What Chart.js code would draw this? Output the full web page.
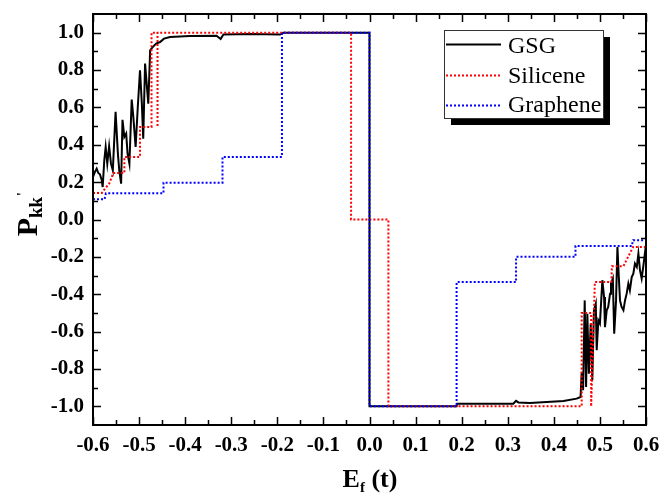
<!DOCTYPE html>
<html><head><meta charset="utf-8">
<script src="https://cdn.jsdelivr.net/npm/chart.js@4/dist/chart.umd.min.js"></script>
<style>html,body{margin:0;padding:0;background:#fff}canvas{display:block}</style>
</head><body>
<canvas id="c" width="662" height="494"></canvas>
<script>
const xTickLabels = [-0.6,-0.5,-0.4,-0.3,-0.2,-0.1,0.0,0.1,0.2,0.3,0.4,0.5,0.6];
const yTickLabels = [-1.0,-0.8,-0.6,-0.4,-0.2,0.0,0.2,0.4,0.6,0.8,1.0];
const seriesNames = ['GSG','Silicene','Graphene'];

const gsgX = [-0.600,-0.596,-0.592,-0.5885,-0.585,-0.581,-0.579,-0.5755,-0.5725,-0.569,-0.565,-0.561,-0.557,-0.551,-0.546,-0.543,-0.539,-0.536,-0.532,-0.528,-0.525,-0.521,-0.516,-0.5125,-0.5075,-0.503,-0.498,-0.494,-0.491,-0.487,-0.4835,-0.480,-0.476,-0.4705,-0.463,-0.4545,-0.446,-0.433,-0.390,-0.332,-0.323,-0.317,-0.259,-0.194,-0.187,0.0,0.0,0.189,0.190,0.312,0.318,0.323,0.348,0.421,0.4495,0.458,0.4605,0.4635,0.467,0.470,0.4727,0.476,0.480,0.4835,0.487,0.491,0.493,0.4966,0.500,0.5053,0.509,0.511,0.5147,0.518,0.522,0.524,0.528,0.531,0.535,0.538,0.541,0.5436,0.547,0.551,0.5545,0.558,0.5617,0.565,0.569,0.5725,0.576,0.580,0.5835,0.587,0.5906,0.594,0.598,0.600];
const gsgY = [0.228,0.254,0.272,0.249,0.242,0.210,0.174,0.317,0.388,0.299,0.392,0.299,0.263,0.576,0.353,0.263,0.192,0.534,0.442,0.460,0.353,0.299,0.642,0.549,0.388,0.594,0.799,0.620,0.433,0.835,0.727,0.620,0.906,0.923,0.942,0.950,0.968,0.977,0.982,0.984,0.966,0.990,0.993,0.990,1.0,1.0,-1.0,-1.0,-0.986,-0.986,-0.971,-0.979,-0.982,-0.971,-0.959,-0.950,-0.816,-0.914,-0.433,-0.897,-0.504,-0.825,-0.557,-0.861,-0.486,-0.450,-0.700,-0.540,-0.557,-0.325,-0.415,-0.576,-0.486,-0.468,-0.397,-0.343,-0.316,-0.611,-0.433,-0.147,-0.308,-0.433,-0.468,-0.486,-0.433,-0.397,-0.343,-0.379,-0.308,-0.290,-0.236,-0.254,-0.183,-0.272,-0.316,-0.254,-0.174,-0.190];

const silX = [-0.600,-0.581,-0.5755,-0.5647,-0.556,-0.532,-0.532,-0.498,-0.498,-0.473,-0.473,-0.460,-0.460,-0.460,-0.040,-0.040,0.041,0.041,0.4605,0.4605,0.481,0.481,0.489,0.525,0.526,0.551,0.572,0.600];
const silY = [0.142,0.142,0.160,0.193,0.249,0.249,0.335,0.335,0.495,0.495,1.0,1.0,0.495,1.0,1.0,0.0,0.0,-1.0,-1.0,-0.5,-0.5,-1.0,-0.335,-0.335,-0.25,-0.25,-0.147,-0.147];

const graX = [-0.600,-0.575,-0.572,-0.447,-0.447,-0.319,-0.319,-0.190,-0.190,0.0,0.0,0.189,0.189,0.318,0.318,0.447,0.447,0.569,0.572,0.600];
const graY = [0.108,0.108,0.140,0.140,0.197,0.197,0.335,0.335,1.0,1.0,-1.0,-1.0,-0.335,-0.335,-0.200,-0.200,-0.142,-0.142,-0.111,-0.111];

const pts = (xs, ys) => xs.map((x, i) => ({x, y: ys[i]}));
const SERIF = '"Liberation Serif", "Times New Roman", serif';

const frameTicks = {
  id: 'frameTicks',
  afterDatasetsDraw(chart) {
    const {ctx, chartArea: a, scales: {x, y}} = chart;
    ctx.save();
    ctx.strokeStyle = '#000';
    ctx.lineWidth = 1.5;
    const xMinor = xTickLabels.slice(1).map((v, i) => (v + xTickLabels[i]) / 2);
    const yMinor = yTickLabels.slice(1).map((v, i) => (v + yTickLabels[i]) / 2);
    ctx.beginPath();
    const xt = (vals, len) => vals.forEach(v => {
      const px = Math.round(x.getPixelForValue(v)) + 0.5;
      ctx.moveTo(px, a.bottom); ctx.lineTo(px, a.bottom - len);
      ctx.moveTo(px, a.top); ctx.lineTo(px, a.top + len);
    });
    const yt = (vals, len) => vals.forEach(v => {
      const py = Math.round(y.getPixelForValue(v)) + 0.5;
      ctx.moveTo(a.left, py); ctx.lineTo(a.left + len, py);
      ctx.moveTo(a.right, py); ctx.lineTo(a.right - len, py);
    });
    xt(xTickLabels, 8); xt(xMinor, 5);
    yt(yTickLabels, 8); yt(yMinor, 5);
    ctx.stroke();
    ctx.lineWidth = 2;
    ctx.strokeRect(a.left, a.top, a.right - a.left, a.bottom - a.top);
    ctx.restore();
  }
};

const legendBox = {
  id: 'legendBox',
  afterDraw(chart) {
    const ctx = chart.ctx;
    const L = 444, T = 30, W = 159, H = 88;
    ctx.save();
    ctx.fillStyle = '#000';
    ctx.fillRect(L + 7, T + 7, W, H);
    ctx.fillStyle = '#fff';
    ctx.fillRect(L, T, W, H);
    ctx.strokeStyle = '#333';
    ctx.lineWidth = 1;
    ctx.strokeRect(L + 0.5, T + 0.5, W, H);
    const ds = chart.data.datasets;
    const rowsLine = [44, 75, 105];
    const rowsBase = [52.5, 83, 111.5];
    ds.forEach((d, i) => {
      ctx.beginPath();
      ctx.strokeStyle = d.borderColor;
      ctx.lineWidth = d.borderWidth;
      ctx.setLineDash(d.borderDash || []);
      ctx.moveTo(446, rowsLine[i] + 0.5);
      ctx.lineTo(501, rowsLine[i] + 0.5);
      ctx.stroke();
      ctx.setLineDash([]);
      ctx.fillStyle = '#000';
      ctx.font = '24px ' + SERIF;
      ctx.textBaseline = 'alphabetic';
      ctx.textAlign = 'left';
      ctx.fillText(d.label, 508, rowsBase[i]);
    });
    ctx.restore();
  }
};

const axisTitles = {
  id: 'axisTitles',
  afterDraw(chart) {
    const ctx = chart.ctx;
    ctx.save();
    ctx.fillStyle = '#000';
    ctx.textBaseline = 'alphabetic';
    ctx.textAlign = 'left';
    // x title: E_f (t)
    const big = 'bold 26px ' + SERIF, small = 'bold 15px ' + SERIF;
    ctx.font = big; const wE = ctx.measureText('E').width;
    ctx.font = small; const wf = ctx.measureText('f').width;
    ctx.font = big; const wt = ctx.measureText(' (t)').width;
    let x0 = 370 - (wE + wf + wt) / 2, base = 487;
    ctx.font = big; ctx.fillText('E', x0, base);
    ctx.font = small; ctx.fillText('f', x0 + wE, base + 5);
    ctx.font = big; ctx.fillText(' (t)', x0 + wE + wf, base);
    // y title: P_kk'
    ctx.translate(37, 214);
    ctx.rotate(-Math.PI / 2);
    const bigP = 'bold 30px ' + SERIF, smallK = 'bold 19px ' + SERIF;
    ctx.font = bigP; const wP = ctx.measureText('P').width;
    ctx.font = smallK; const wk = ctx.measureText('kk').width;
    const wq = ctx.measureText("'").width;
    let s = -(wP + wk + wq) / 2;
    ctx.font = bigP; ctx.fillText('P', s, 0);
    ctx.font = smallK; ctx.fillText('kk', s + wP, 5);
    ctx.font = 'bold 14px ' + SERIF;
    ctx.fillText("'", s + wP + wk + 1, -10);
    ctx.restore();
  }
};

new Chart(document.getElementById('c'), {
  type: 'scatter',
  data: {
    datasets: [
      {label: seriesNames[0], data: pts(gsgX, gsgY), borderColor: '#000', borderWidth: 2, showLine: true, pointRadius: 0, tension: 0, order: 2},
      {label: seriesNames[1], data: pts(silX, silY), borderColor: '#ff0000', borderWidth: 2, borderDash: [2, 2], showLine: true, pointRadius: 0, tension: 0, order: 1},
      {label: seriesNames[2], data: pts(graX, graY), borderColor: '#0000ff', borderWidth: 2, borderDash: [2, 2], showLine: true, pointRadius: 0, tension: 0, order: 0}
    ]
  },
  options: {
    responsive: false,
    animation: false,
    devicePixelRatio: 1,
    layout: {padding: {left: 0, right: 16, top: 14, bottom: 0}},
    plugins: {legend: {display: false}, tooltip: {enabled: false}},
    scales: {
      x: {
        type: 'linear', min: -0.6, max: 0.6,
        grid: {display: false, drawTicks: false},
        border: {display: false},
        afterBuildTicks: s => { s.ticks = xTickLabels.map(v => ({value: v})); },
        afterFit: s => { s.height = 69; s.paddingLeft = 0; s.paddingRight = 0; },
        ticks: {padding: 8, color: '#000', maxRotation: 0, autoSkip: false,
          font: {family: SERIF, size: 21, weight: 'bold'},
          callback: v => Number(v).toFixed(1)}
      },
      y: {
        type: 'linear', min: -1.1, max: 1.1,
        grid: {display: false, drawTicks: false},
        border: {display: false},
        afterBuildTicks: s => { s.ticks = yTickLabels.map(v => ({value: v})); },
        afterFit: s => { s.width = 93; s.paddingTop = 0; s.paddingBottom = 0; },
        ticks: {padding: 9, color: '#000', autoSkip: false,
          font: {family: SERIF, size: 21, weight: 'bold'},
          callback: v => Number(v).toFixed(1)}
      }
    }
  },
  plugins: [frameTicks, legendBox, axisTitles]
});
</script>
</body></html>
